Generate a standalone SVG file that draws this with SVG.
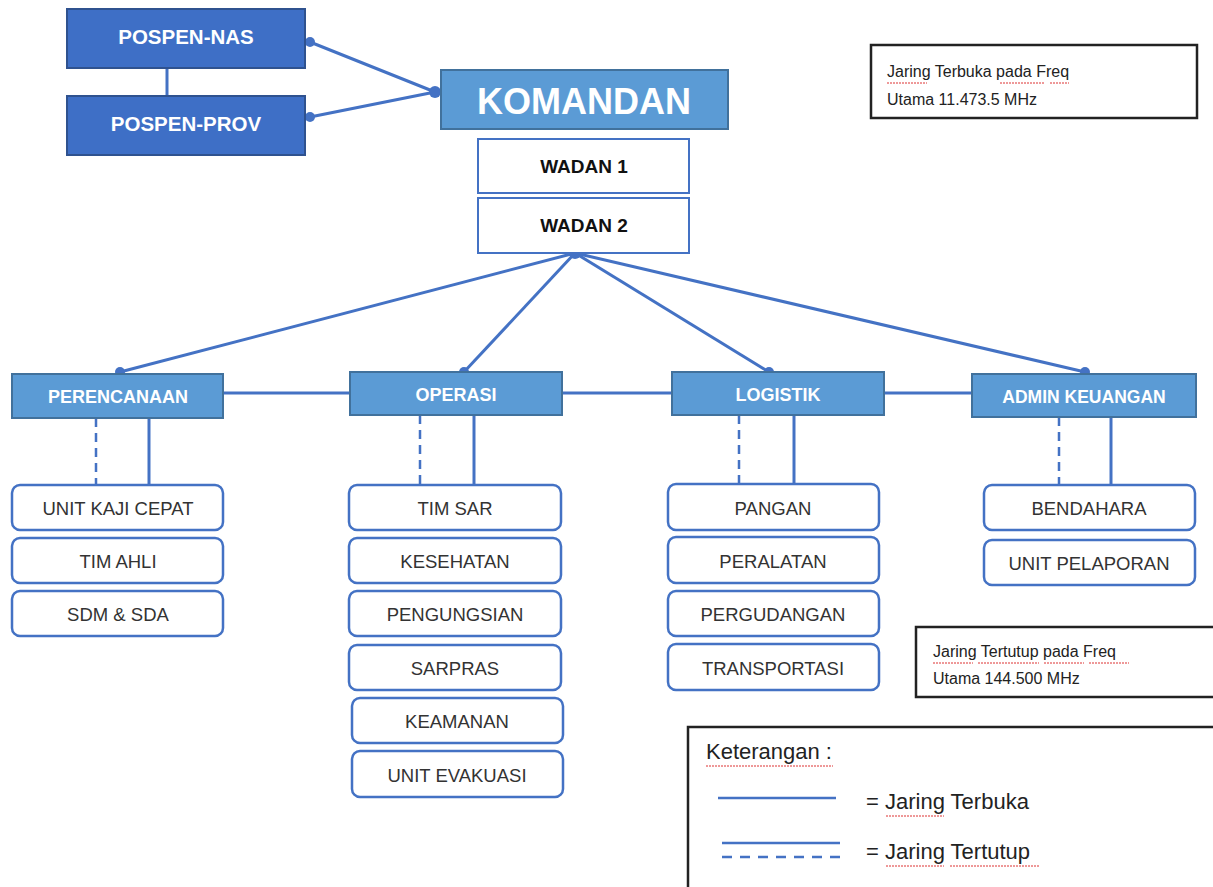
<svg xmlns="http://www.w3.org/2000/svg" width="1213" height="887" viewBox="0 0 1213 887">
<style>
.pos{fill:#3e6fc6;stroke:#2f528f;stroke-width:2}
.hdr{fill:#5b9bd5;stroke:#41719c;stroke-width:2}
.wad{fill:#fff;stroke:#4472c4;stroke-width:2}
.sub{fill:#fff;stroke:#4472c4;stroke-width:2.5}
.note{fill:#fff;stroke:#222;stroke-width:2.5}
.ln{stroke:#4472c4;stroke-width:3;fill:none}
.dash{stroke:#4472c4;stroke-width:2.5;stroke-dasharray:9,6;fill:none}
.dot{fill:#4472c4}
text{font-family:"Liberation Sans",Arial,sans-serif;text-anchor:middle}
.tw{fill:#fff;font-weight:bold;font-size:18px}
.tk{fill:#111;font-weight:bold;font-size:19px}
.ts{fill:#333;font-size:18.5px}
.tn{fill:#222;font-size:16px;text-anchor:start}
.wavy{stroke:#d33;stroke-width:1;fill:none;stroke-dasharray:2,1}
</style>
<g id="connectors">
<line class="ln" x1="167" y1="68" x2="167" y2="96"/>
<line class="ln" x1="310" y1="42" x2="435" y2="92"/>
<line class="ln" x1="310" y1="117" x2="435" y2="92"/>
<circle class="dot" cx="310" cy="42" r="5"/>
<circle class="dot" cx="310" cy="117" r="5"/>
<circle class="dot" cx="435" cy="92" r="6"/>
<line class="ln" x1="575" y1="253" x2="120" y2="372"/>
<line class="ln" x1="575" y1="253" x2="464" y2="372"/>
<line class="ln" x1="575" y1="253" x2="769" y2="372"/>
<line class="ln" x1="575" y1="253" x2="1085" y2="372"/>
<circle class="dot" cx="575" cy="253" r="6"/>
<circle class="dot" cx="120" cy="372" r="5"/>
<circle class="dot" cx="464" cy="372" r="5"/>
<circle class="dot" cx="769" cy="372" r="5"/>
<circle class="dot" cx="1085" cy="372" r="5"/>
<line class="ln" x1="223" y1="393" x2="350" y2="393"/>
<line class="ln" x1="562" y1="393" x2="672" y2="393"/>
<line class="ln" x1="884" y1="393" x2="972" y2="393"/>
<line class="dash" x1="96" y1="418" x2="96" y2="485"/>
<line class="ln" x1="149" y1="418" x2="149" y2="485"/>
<line class="dash" x1="420" y1="415" x2="420" y2="485"/>
<line class="ln" x1="474" y1="415" x2="474" y2="485"/>
<line class="dash" x1="739" y1="415" x2="739" y2="484"/>
<line class="ln" x1="794" y1="415" x2="794" y2="484"/>
<line class="dash" x1="1059" y1="417" x2="1059" y2="485"/>
<line class="ln" x1="1111" y1="417" x2="1111" y2="485"/>
</g>
<g id="pospen-nas"><rect class="pos" x="67" y="9" width="238" height="59"/><text class="tw" x="186" y="44" style="font-size:20.5px">POSPEN-NAS</text></g>
<g id="pospen-prov"><rect class="pos" x="67" y="96" width="238" height="59"/><text class="tw" x="186" y="131" style="font-size:20.5px">POSPEN-PROV</text></g>
<g id="komandan"><rect class="hdr" x="441" y="70" width="287" height="59"/><text class="tw" x="584" y="114" style="font-size:36px">KOMANDAN</text></g>
<g id="wadan1"><rect class="wad" x="478" y="139" width="211" height="54"/><text class="tk" x="584" y="173">WADAN 1</text></g>
<g id="wadan2"><rect class="wad" x="478" y="198" width="211" height="55"/><text class="tk" x="584" y="232">WADAN 2</text></g>
<g id="perencanaan"><rect class="hdr" x="12" y="374" width="211" height="44"/><text class="tw" x="118" y="403">PERENCANAAN</text></g>
<g id="operasi"><rect class="hdr" x="350" y="372" width="212" height="43"/><text class="tw" x="456" y="401">OPERASI</text></g>
<g id="logistik"><rect class="hdr" x="672" y="372" width="212" height="43"/><text class="tw" x="778" y="401">LOGISTIK</text></g>
<g id="admin"><rect class="hdr" x="972" y="374" width="224" height="43"/><text class="tw" x="1084" y="403" style="font-size:17.5px">ADMIN KEUANGAN</text></g>
<g id="unit-kaji-cepat"><rect class="sub" x="12" y="485" width="211" height="45" rx="8"/><text class="ts" x="118" y="515">UNIT KAJI CEPAT</text></g>
<g id="tim-ahli"><rect class="sub" x="12" y="538" width="211" height="45" rx="8"/><text class="ts" x="118" y="568">TIM AHLI</text></g>
<g id="sdm-sda"><rect class="sub" x="12" y="591" width="211" height="45" rx="8"/><text class="ts" x="118" y="621">SDM &amp; SDA</text></g>
<g id="tim-sar"><rect class="sub" x="349" y="485" width="212" height="45" rx="8"/><text class="ts" x="455" y="515">TIM SAR</text></g>
<g id="kesehatan"><rect class="sub" x="349" y="538" width="212" height="45" rx="8"/><text class="ts" x="455" y="568">KESEHATAN</text></g>
<g id="pengungsian"><rect class="sub" x="349" y="591" width="212" height="45" rx="8"/><text class="ts" x="455" y="621">PENGUNGSIAN</text></g>
<g id="sarpras"><rect class="sub" x="349" y="645" width="212" height="45" rx="8"/><text class="ts" x="455" y="675">SARPRAS</text></g>
<g id="keamanan"><rect class="sub" x="352" y="698" width="211" height="45" rx="8"/><text class="ts" x="457" y="728">KEAMANAN</text></g>
<g id="unit-evakuasi"><rect class="sub" x="352" y="751" width="211" height="46" rx="8"/><text class="ts" x="457" y="782">UNIT EVAKUASI</text></g>
<g id="pangan"><rect class="sub" x="668" y="484" width="211" height="46" rx="8"/><text class="ts" x="773" y="515">PANGAN</text></g>
<g id="peralatan"><rect class="sub" x="668" y="537" width="211" height="46" rx="8"/><text class="ts" x="773" y="568">PERALATAN</text></g>
<g id="pergudangan"><rect class="sub" x="668" y="591" width="211" height="45" rx="8"/><text class="ts" x="773" y="621">PERGUDANGAN</text></g>
<g id="transportasi"><rect class="sub" x="668" y="644" width="211" height="46" rx="8"/><text class="ts" x="773" y="675">TRANSPORTASI</text></g>
<g id="bendahara"><rect class="sub" x="984" y="485" width="211" height="45" rx="8"/><text class="ts" x="1089" y="515">BENDAHARA</text></g>
<g id="unit-pelaporan"><rect class="sub" x="984" y="540" width="211" height="45" rx="8"/><text class="ts" x="1089" y="570">UNIT PELAPORAN</text></g>
<g id="note-terbuka"><rect class="note" x="871" y="45" width="326" height="73"/>
<text class="tn" x="887" y="77">Jaring Terbuka pada Freq</text><text class="tn" x="887" y="105">Utama 11.473.5 MHz</text>
<path class="wavy" d="M887 83h40M1000 83h44M1050 83h19"/></g>
<g id="note-tertutup"><rect class="note" x="916" y="627" width="300" height="70"/>
<text class="tn" x="933" y="657">Jaring Tertutup pada Freq</text><text class="tn" x="933" y="684">Utama 144.500 MHz</text>
<path class="wavy" d="M933 663h40M978 663h61M1044 663h40M1089 663h40"/></g>
<g id="legend"><rect class="note" x="688" y="727" width="530" height="165"/>
<text class="tn" x="706" y="759" style="font-size:22px">Keterangan :</text>
<path class="wavy" d="M706 766h127"/>
<line class="ln" x1="718" y1="798" x2="836" y2="798" style="stroke-width:2.5"/>
<text class="tn" x="866" y="809" style="font-size:22px">= Jaring Terbuka</text>
<path class="wavy" d="M886 816h58"/>
<line class="ln" x1="722" y1="843" x2="840" y2="843" style="stroke-width:2.5"/>
<line class="dash" x1="722" y1="857" x2="840" y2="857" style="stroke-dasharray:10,8"/>
<text class="tn" x="866" y="859" style="font-size:22px">= Jaring Tertutup</text>
<path class="wavy" d="M886 866h58M950 866h90"/></g>
</svg>
